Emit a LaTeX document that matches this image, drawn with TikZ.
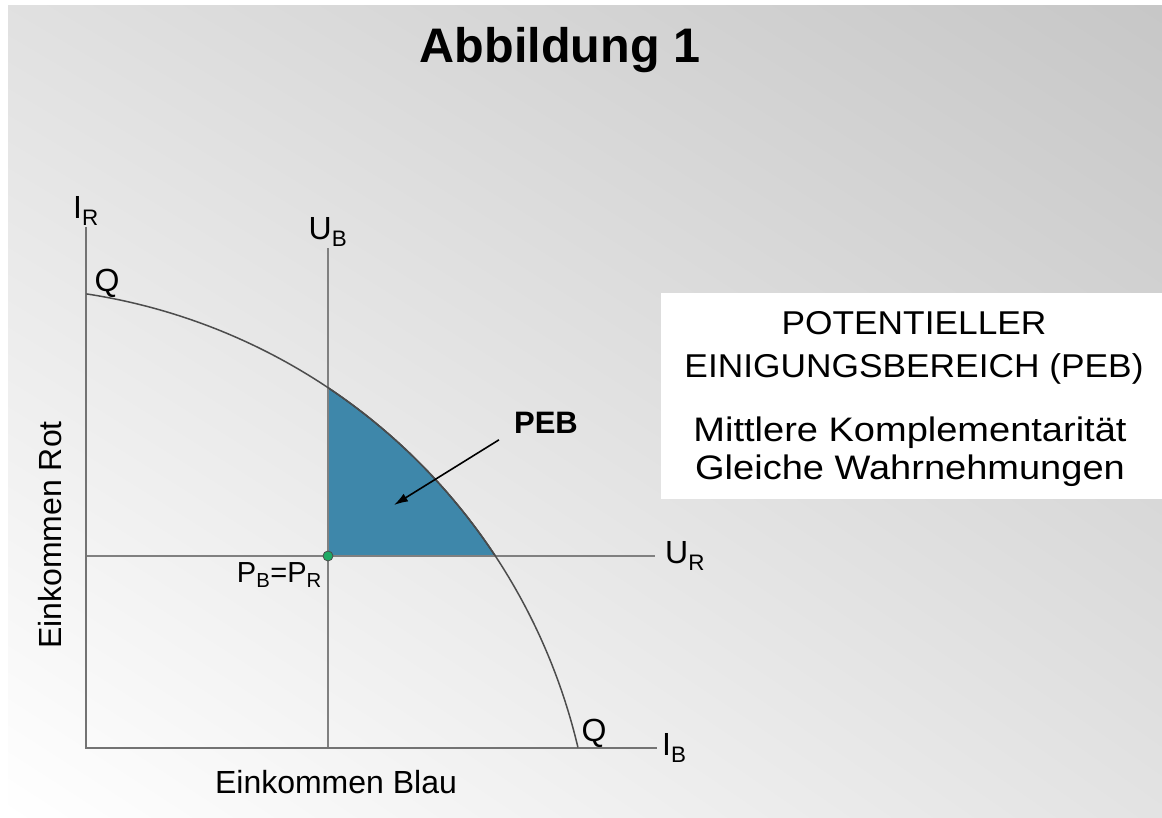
\documentclass[tikz,border=0pt]{standalone}
\usepackage{fontspec}
\setsansfont{Liberation Sans}
\usetikzlibrary{arrows.meta, positioning, calc, shadings}

\definecolor{pebblue}{RGB}{62,135,170}
\definecolor{dotgreen}{RGB}{30,170,100}

\begin{document}
\begin{tikzpicture}[
    x=1pt, y=1pt,
    font=\sffamily,
    axisline/.style={draw=black!55, line width=1.6pt},
    ruleline/.style={draw=black!50, line width=1.4pt},
    curveline/.style={draw=black!70, line width=1.5pt},
    axislabel/.style={font=\sffamily\fontsize{32}{38}\selectfont, inner sep=1pt},
    boxtext/.style={font=\sffamily\fontsize{33}{43}\selectfont, align=center, xscale=1.07},
    arrow/.style={-{Latex[length=14pt,width=9pt]}, line width=1.6pt}
]

% Background
\useasboundingbox (0,0) rectangle (1162,818);
\fill[white] (0,0) rectangle (1162,818);
\shade[upper left=black!12, upper right=black!22, lower left=white, lower right=black!11] (8,0) rectangle (1162,812);

% Title
\node[font=\sffamily\bfseries\fontsize{48.5}{56}\selectfont] (title) at (560,768) {Abbildung 1};

% Info box
\node[fill=white, inner sep=0pt, minimum width=501pt, minimum height=206pt] (infobox) at (911.5,422) {};
\node[boxtext] (boxhead) at (914,470) {POTENTIELLER\\EINIGUNGSBEREICH (PEB)};
\node[boxtext, font=\sffamily\fontsize{34}{38}\selectfont, xscale=1.045] (boxbody) at (910,366) {Mittlere Komplementarität\\Gleiche Wahrnehmungen};

% Points
\coordinate (O) at (86,70);
\coordinate (IRtop) at (86,591);
\coordinate (IBend) at (657,70);
\coordinate (P) at (328,262);
\coordinate (UBtop) at (328,570);
\coordinate (UBbot) at (328,70);
\coordinate (URleft) at (86,262);
\coordinate (URend) at (655,262);
\coordinate (C) at (-4,-67);

% PEB region
\fill[pebblue, draw=black!80, line width=1.5pt] (P) -- ($(C)+(56.28:598)$) arc[start angle=56.28, end angle=33.38, radius=598] -- cycle;

% Lines
\draw[ruleline] (UBbot) -- (UBtop);
\draw[ruleline] (URleft) -- (URend);
\draw[axisline] (IRtop) -- (O) -- (IBend);
\draw[curveline] ($(C)+(81.3:598)$) arc[start angle=81.3, end angle=13.3, radius=598];
\node[circle, fill=dotgreen, draw=black!70, line width=0.8pt, minimum size=10pt, inner sep=0pt] (pdot) at (P) {};

% Labels
\node[axislabel, anchor=south] (irlbl) at (IRtop) {I\textsubscript{R}};
\node[axislabel, anchor=south] (ublbl) at (UBtop) {U\textsubscript{B}};
\node[axislabel, anchor=west] (urlbl) at ([xshift=9pt]URend) {U\textsubscript{R}};
\node[axislabel, anchor=west] (iblbl) at ([xshift=4pt]IBend) {I\textsubscript{B}};
\node[axislabel] (qtop) at (107,535) {Q};
\node[axislabel] (qbot) at (594,85) {Q};
\node[axislabel, font=\sffamily\fontsize{29}{34}\selectfont, anchor=north east] (plbl) at ([xshift=-5pt, yshift=-5pt]P) {P\textsubscript{B}=P\textsubscript{R}};
\node[axislabel] (xlbl) at (336,36) {Einkommen Blau};
\node[axislabel, rotate=90] (ylbl) at (50,283) {Einkommen Rot};
\node[axislabel, font=\sffamily\bfseries\fontsize{31}{36}\selectfont] (peblbl) at (546,395) {PEB};

% Arrow
\coordinate (pebtip) at (394,313);
\draw[arrow] ([xshift=-14pt, yshift=-5pt]peblbl.south west) -- (pebtip);

\end{tikzpicture}
\end{document}
